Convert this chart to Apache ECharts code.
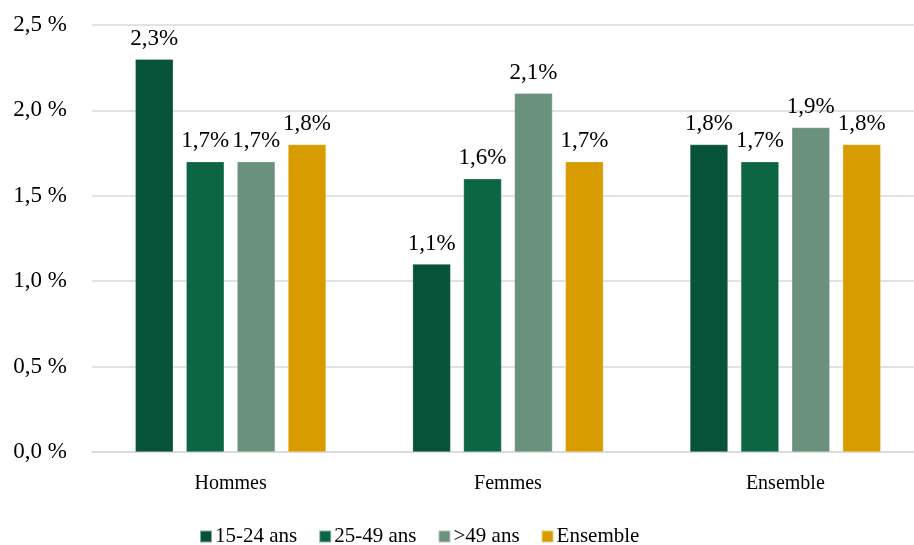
<!DOCTYPE html>
<html><head><meta charset="utf-8">
<script src="https://cdn.jsdelivr.net/npm/echarts@6/dist/echarts.min.js"></script>
<style>html,body{margin:0;padding:0;background:#fff}#c{width:914px;height:545px}</style>
</head><body><div id="c"></div>
<script>
const categories = ['Hommes', 'Femmes', 'Ensemble'];
const seriesNames = ['15-24 ans', '25-49 ans', '>49 ans', 'Ensemble'];
const v1524 = [2.3, 1.1, 1.8];
const v2549 = [1.7, 1.6, 1.7];
const v49 = [1.7, 2.1, 1.9];
const vEns = [1.8, 1.7, 1.8];
const yTicks = [0, 0.5, 1.0, 1.5, 2.0, 2.5];
const colors = ['#07533A', '#0C6644', '#6A917B', '#D89B00'];
const FONT = 'Liberation Serif';
const fmt = v => v.toFixed(1).replace('.', ',');
const chart = echarts.init(document.getElementById('c'));
const allVals = [v1524, v2549, v49, vEns];
chart.setOption({
  animation: false,
  textStyle: {fontFamily: FONT},
  grid: {left: 92, top: 25, width: 832, height: 427, outerBoundsMode: 'none', containLabel: false},
  legend: {
    top: 521, left: 194, itemWidth: 12, itemHeight: 12, itemGap: 21,
    icon: 'rect',
    textStyle: {fontFamily: FONT, fontSize: 21, color: '#000', padding: [0,0,0,-2]},
    data: seriesNames
  },
  xAxis: {
    type: 'category', data: categories,
    axisLine: {lineStyle: {color: '#d9d9d9', width: 1.5}},
    axisTick: {show: false},
    axisLabel: {fontFamily: FONT, fontSize: 20, color: '#000', margin: 22}
  },
  yAxis: {
    type: 'value', min: 0, max: 2.5, interval: 0.5,
    axisLine: {show: false}, axisTick: {show: false},
    splitLine: {lineStyle: {color: '#d9d9d9', width: 1.5}},
    axisLabel: {fontFamily: FONT, fontSize: 23, color: '#000', margin: 25,
      formatter: v => fmt(v) + ' %'}
  },
  series: seriesNames.map((n, i) => ({
    name: n, type: 'bar', data: allVals[i],
    barWidth: 38, barGap: '34%', barCategoryGap: '31%',
    itemStyle: {color: colors[i], borderColor: 'rgba(255,255,255,0.5)', borderWidth: 0.5},
    label: {show: true, position: 'top', distance: 9, fontFamily: FONT, fontSize: 23, color: '#000',
      formatter: p => fmt(p.value) + '%'}
  }))
});
</script></body></html>
